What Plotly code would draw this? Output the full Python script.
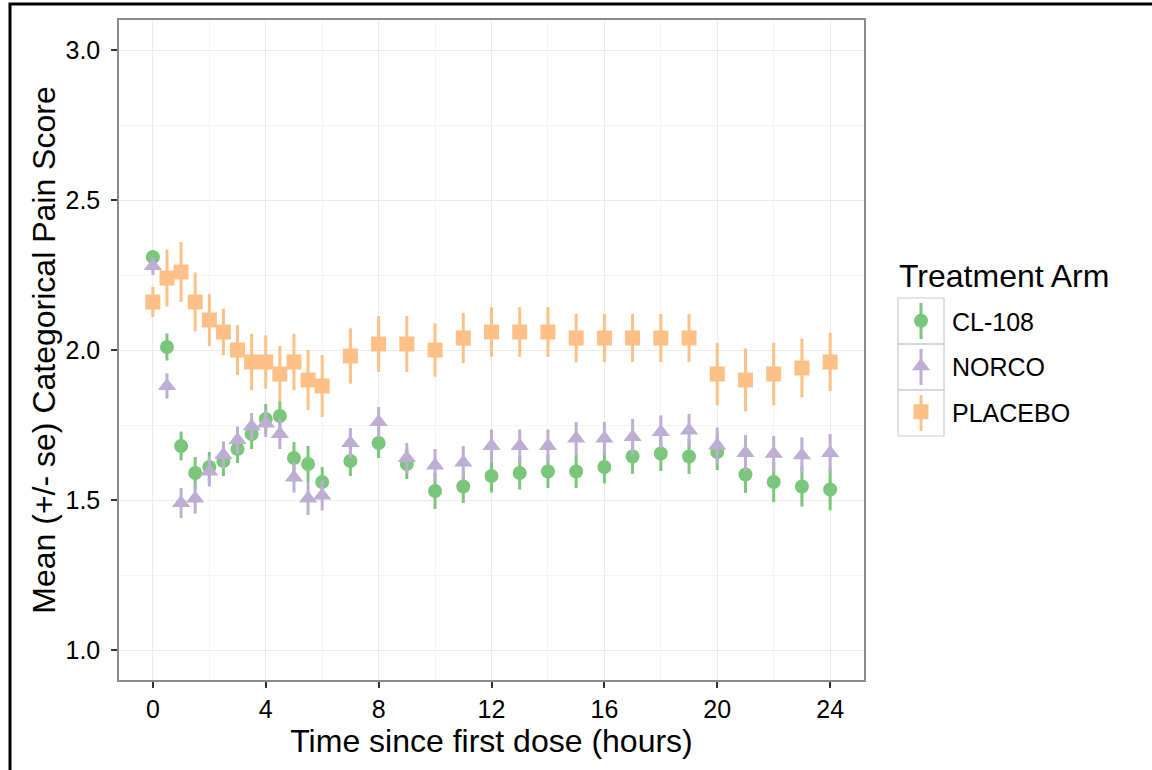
import plotly.graph_objects as go

# ---------------- data ----------------
times = [0, 0.5, 1, 1.5, 2, 2.5, 3, 3.5, 4, 4.5, 5, 5.5, 6,
         7, 8, 9, 10, 11, 12, 13, 14, 15, 16, 17, 18, 19, 20, 21, 22, 23, 24]

cl108_mean = [2.31, 2.01, 1.68, 1.59, 1.61, 1.63, 1.67, 1.72, 1.77, 1.78, 1.64, 1.62, 1.56,
              1.63, 1.69, 1.62, 1.53, 1.545, 1.58, 1.59, 1.595, 1.595, 1.61, 1.645, 1.655,
              1.645, 1.66, 1.585, 1.56, 1.545, 1.535]
cl108_se = [0.02, 0.045, 0.048, 0.053, 0.05, 0.05, 0.047, 0.05, 0.05, 0.05, 0.053, 0.06, 0.05,
            0.05, 0.05, 0.05, 0.06, 0.055, 0.055, 0.055, 0.055, 0.055, 0.055, 0.058, 0.058,
            0.058, 0.06, 0.061, 0.067, 0.067, 0.069]

norco_mean = [2.28, 1.88, 1.49, 1.505, 1.595, 1.65, 1.70, 1.745, 1.755, 1.72, 1.575, 1.505, 1.515,
              1.69, 1.76, 1.64, 1.615, 1.625, 1.68, 1.68, 1.68, 1.705, 1.705, 1.71, 1.727,
              1.732, 1.682, 1.657, 1.654, 1.649, 1.657]
norco_se = [0.03, 0.042, 0.05, 0.05, 0.05, 0.045, 0.045, 0.045, 0.045, 0.05, 0.05, 0.055, 0.05,
            0.05, 0.05, 0.05, 0.055, 0.055, 0.055, 0.055, 0.055, 0.055, 0.055, 0.06, 0.055,
            0.055, 0.06, 0.06, 0.06, 0.06, 0.063]

placebo_mean = [2.16, 2.24, 2.26, 2.16, 2.10, 2.06, 2.00, 1.96, 1.96, 1.92, 1.96, 1.90, 1.88,
                1.98, 2.02, 2.02, 2.00, 2.04, 2.06, 2.06, 2.06, 2.04, 2.04, 2.04, 2.04,
                2.04, 1.92, 1.90, 1.92, 1.94, 1.96]
placebo_se = [0.05, 0.095, 0.10, 0.098, 0.087, 0.078, 0.083, 0.094, 0.089, 0.093, 0.094, 0.10, 0.103,
              0.092, 0.093, 0.093, 0.089, 0.084, 0.083, 0.083, 0.083, 0.081, 0.08, 0.08, 0.08,
              0.08, 0.104, 0.105, 0.104, 0.098, 0.097]

arms = ["CL-108", "NORCO", "PLACEBO"]
legend_title = "Treatment Arm"
x_ticks = [0, 4, 8, 12, 16, 20, 24]
y_ticks = [1.0, 1.5, 2.0, 2.5, 3.0]
y_tick_labels = ["1.0", "1.5", "2.0", "2.5", "3.0"]

# ---------------- styles ----------------
colors = {"CL-108": "#7AC67A", "NORCO": "#BEAED4", "PLACEBO": "#FDC086"}
symbols = {"CL-108": "circle", "NORCO": "triangle-up", "PLACEBO": "square"}
sizes = {"CL-108": 14, "NORCO": 16, "PLACEBO": 15}
series = {"CL-108": (cl108_mean, cl108_se),
          "NORCO": (norco_mean, norco_se),
          "PLACEBO": (placebo_mean, placebo_se)}

FONT = "Liberation Sans, Arial, Helvetica, sans-serif"

fig = go.Figure()
for arm in arms:
    m, s = series[arm]
    fig.add_trace(go.Scatter(
        x=times, y=m, mode="markers", name=arm, legendgroup=arm,
        marker=dict(color=colors[arm], symbol=symbols[arm], size=sizes[arm], line=dict(width=0)),
        error_y=dict(type="data", array=s, visible=True, color=colors[arm], thickness=3, width=0),
    ))

# plot-area geometry in pixels (for paper conversions)
L, R, T, B = 119, 864, 20, 680
W, H = R - L, B - T
px = lambda v: (v - L) / W
py = lambda v: (B - v) / H

shapes = []
# legend key boxes
rows = [298, 344, 390, 436]
for i, arm in enumerate(arms):
    shapes.append(dict(type="rect", xref="paper", yref="paper",
                       x0=px(898), x1=px(944), y0=py(rows[i + 1]), y1=py(rows[i]),
                       line=dict(color="#CCCCCC", width=1.2), fillcolor="rgba(0,0,0,0)", layer="below"))
    cy = (rows[i] + rows[i + 1]) / 2
    shapes.append(dict(type="line", xref="paper", yref="paper",
                       x0=px(921), x1=px(921), y0=py(cy - 18), y1=py(cy + 18),
                       line=dict(color=colors[arm], width=3), layer="below"))
# outer black frame (top + left visible)
shapes.append(dict(type="rect", xref="paper", yref="paper",
                   x0=px(10), x1=px(1300), y0=py(900), y1=py(4),
                   line=dict(color="black", width=3), fillcolor="rgba(0,0,0,0)"))

fig.update_layout(
    width=1152, height=770,
    margin=dict(l=L, r=1152 - R, t=T, b=770 - B),
    paper_bgcolor="white", plot_bgcolor="white",
    font=dict(family=FONT, color="black"),
    shapes=shapes,
    showlegend=True,
    annotations=[dict(text=legend_title, xref="paper", yref="paper",
                      x=px(897), y=py(276), xanchor="left", yanchor="middle",
                      showarrow=False, font=dict(size=32, family=FONT, color="black"))],
    legend=dict(
        font=dict(size=25, family=FONT, color="black"),
        x=px(890), xanchor="left", y=py(298), yanchor="top",
        tracegroupgap=10, itemwidth=52, bgcolor="rgba(0,0,0,0)",
    ),
    xaxis=dict(
        range=[-1.2, 25.2], tickmode="array", tickvals=x_ticks,
        ticks="outside", ticklen=6, tickwidth=2, tickcolor="#333333",
        tickfont=dict(size=25, family=FONT, color="black"),
        showgrid=True, gridcolor="#EBEBEB", gridwidth=1.2,
        minor=dict(tickvals=[2, 6, 10, 14, 18, 22], showgrid=True, gridcolor="#F4F4F4", gridwidth=0.8, ticks=""),
        showline=True, mirror=True, linecolor="#8C8C8C", linewidth=1.5,
        zeroline=False,
        title=dict(text="Time since first dose (hours)", font=dict(size=32, family=FONT, color="black"), standoff=6),
    ),
    yaxis=dict(
        range=[0.9, 3.1], tickmode="array", tickvals=y_ticks, ticktext=y_tick_labels,
        ticks="outside", ticklen=6, tickwidth=2, tickcolor="#333333",
        tickfont=dict(size=25, family=FONT, color="black"),
        ticklabelstandoff=6,
        showgrid=True, gridcolor="#EBEBEB", gridwidth=1.2,
        minor=dict(tickvals=[1.25, 1.75, 2.25, 2.75], showgrid=True, gridcolor="#F4F4F4", gridwidth=0.8, ticks=""),
        showline=True, mirror=True, linecolor="#8C8C8C", linewidth=1.5,
        zeroline=False,
        title=dict(text="Mean (+/- se) Categorical Pain Score", font=dict(size=32, family=FONT, color="black"), standoff=0),
    ),
)

fig.write_html("out.html", config={"displayModeBar": False},
               post_script="document.body.style.margin='0px';document.body.style.overflow='hidden';")
